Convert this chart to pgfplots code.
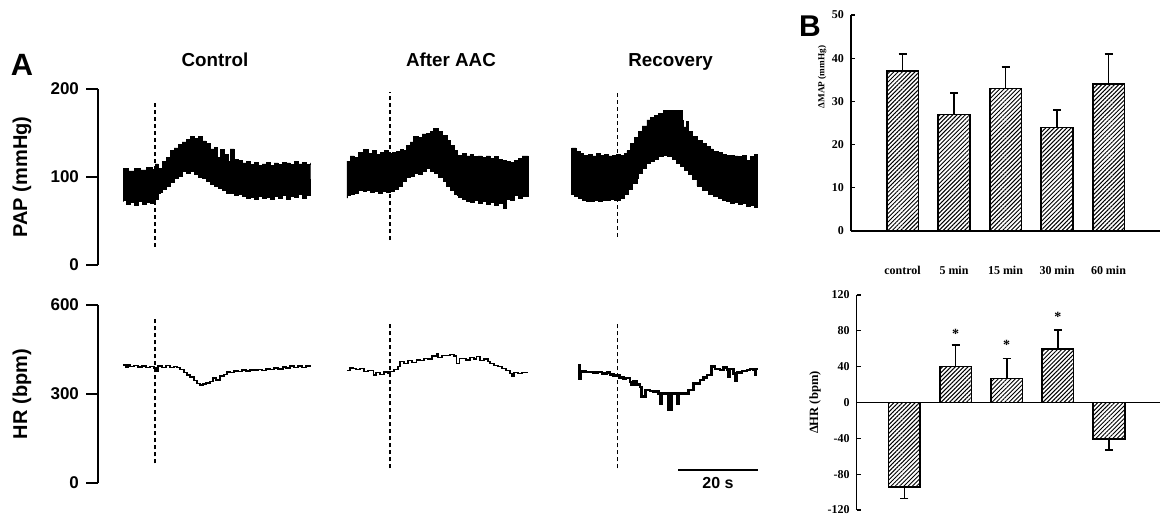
\documentclass[border=0pt]{standalone}
\usepackage{pgfplots}
\pgfplotsset{compat=1.18}
\usepackage{fontspec}
\setmainfont{Liberation Sans}
\newfontfamily\tnr{Liberation Serif}
\usetikzlibrary{patterns.meta}

% 1 px of the reference = 0.5pt
\pgfplotsset{
  trace/.style={
    scale only axis, anchor=south west, clip=false,
    width=341pt, xmin=0, xmax=170.5,
    hide x axis, axis y line*=left,
    tick align=outside, major tick length=6pt,
    tick style={line width=1.2pt, black},
    axis line style={line width=1.3pt},
    /pgf/number format/assume math mode=true,
    yticklabel style={font=\bfseries\fontsize{8.5}{10}\selectfont},
    ylabel style={font=\bfseries\fontsize{10}{12}\selectfont,
      at={(axis description cs:-0.1114,0.5)}, anchor=center},
  },
  vline/.style={black, line width=0.6pt, dash pattern=on 2pt off 1.5pt},
  band/.style={const plot, fill=black, draw=black, line width=0.3pt},
  bars/.style={
    scale only axis, anchor=south west, clip=false,
    xmin=0, xmax=6, axis y line*=left,
    axis line style={line width=0.6pt},
    tick align=inside, major tick length=2pt,
    ytick style={line width=0.6pt, black},
    /pgf/number format/assume math mode=true,
    tick label style={font=\tnr\bfseries\fontsize{6}{7}\selectfont},
    ybar, bar width=15.8pt,
  },
  hbar/.style={bar shift=0pt, draw=black, line width=0.8pt,
    pattern={Lines[angle=45,distance=1.5pt,line width=0.5pt]},
    error bars/.cd, y dir=#1, y explicit,
    error bar style={line width=0.8pt, black},
    error mark options={rotate=90, line width=0.8pt, mark size=2pt, black}},
}

\begin{document}
\begin{tikzpicture}
\path[use as bounding box] (0,0) rectangle (580pt,-258pt);

% ---------- panel A, pressure ----------
\begin{axis}[trace, at={(49pt,-132.5pt)}, height=88pt,
  ymin=0, ymax=200, ytick={0,100,200}, ylabel={PAP (mmHg)}]
% control
\addplot[band] coordinates {
 (6.3,110) (7.5,107) (9,110) (10.5,108) (12,111) (13.5,109) (14.3,115) (15,110)
 (16,118) (17,122) (18,130) (19,133) (20,137) (21,140) (22,143) (23,146) (24,144)
 (25,146) (26,141) (27,138) (28,132) (29,134) (29.7,122) (30.5,131) (31.5,126)
 (32.5,118) (33,132) (34,120) (35,119) (36,116) (37,118) (38,114) (39,117) (40,113)
 (41,115) (42,117) (43,113) (44,116) (45,114) (46,117) (47,116) (48,114) (49,118)
 (50,115) (51,117) (52,114) (53,116)
 (53,79) (52,76) (51,80) (50,77) (49,78) (48,75) (47,79) (46,76) (45,78) (44,75)
 (43,77) (42,76) (41,78) (40,75) (39,77) (38,76) (37,78) (36,80) (35,79) (34,82)
 (33,81) (32,85) (31,87) (30,90) (29,92) (28,95) (27,98) (26,100) (25,103) (24,106)
 (23,104) (22,106) (21,101) (20,98) (19,94) (18,90) (17,86) (16,83) (15.5,81) (15,75)
 (14.3,70) (13,71) (12,69) (11,72) (10,68) (9,71) (8,69) (7,73) (6.3,72)} --cycle;
% after AAC
\addplot[band] coordinates {
 (62.2,118) (63,124) (64,122) (65,128) (66,126) (66.3,131) (67.5,127) (68.5,130)
 (69.5,126) (70.5,128) (71.5,130) (72.5,127) (73.5,128) (74.5,129) (75.5,131)
 (76.3,130) (77,136) (78,140) (78.8,146) (80,145) (81,149) (82,150) (83,152)
 (83.8,155) (85,152) (86,147) (87.2,142) (88,136) (89,130) (89.7,125) (91,127)
 (92,124) (93,126) (93.8,123) (95,124) (96,122) (97,124) (98,121) (99,123) (100,120)
 (101,119) (102,118) (103,117) (104,119) (105,121) (106,124) (107.6,123)
 (107.6,78) (106,76) (105,79) (104,73) (103,75) (102,65) (101.3,70) (100,68) (99,71)
 (98,69) (97,72) (96,70) (95,73) (94,71) (93,72) (92,75) (91,77) (90,79) (89.7,80)
 (89,85) (88,90) (87,95) (86.3,100) (85,104) (84,107) (83,110) (82,106) (81,103)
 (80,104) (79,101) (78,100) (77,95) (76,90) (75,86) (74,84) (73,83) (72,84) (71,82)
 (70,84) (69,83) (68,85) (67,84) (66.3,85) (65,82) (64,80) (63,79) (62.2,76)} --cycle;
% recovery
\addplot[band] coordinates {
 (118.4,133) (119.5,129) (120.5,127) (121.3,125) (122.5,126) (123.5,124) (124.5,127)
 (125.5,125) (126.5,126) (127.5,124) (128.5,125) (129.5,126) (130.5,125) (131.5,127)
 (132.2,130) (133,138) (134,145) (135,152) (136,158) (137.2,165) (138,168) (139,170)
 (140,172) (141.3,176) (142.5,176) (143.5,176) (144.5,176) (145.5,176) (146,165)
 (146.3,157) (147,163) (147.5,152) (148.5,146) (149.7,142) (151,138) (152,135)
 (153,132) (153.8,129) (155,128) (156,126) (157,125) (158,125) (159,124) (160,123)
 (161,125) (162,119) (163,123) (164,126) (164.9,123)
 (164.9,66) (164,68) (163,67) (162,70) (161,69) (160,71) (159,70) (158,72) (157,74)
 (156,76) (155,78) (153.8,80) (152.5,85) (151,90) (149.7,97) (148.5,103) (147.5,108)
 (146.5,112) (145.5,116) (144.5,120) (143.5,124) (142.2,125) (141.3,123) (140,120)
 (139,118) (138,116) (137,110) (136,104) (135,98) (134.7,93) (133.5,86) (132.5,80)
 (131.5,76) (130.5,74) (129,75) (128,73) (127,74) (126,72) (125,74) (124,72) (123,72)
 (122,74) (121,76) (120,78) (119,80) (118.4,80)} --cycle;
\addplot[vline] coordinates {(14.25,20.8) (14.25,187.5)};
\addplot[vline] coordinates {(73,28.4) (73,197)};
\addplot[vline] coordinates {(129.8,32) (129.8,199)};
\end{axis}

% ---------- panel A, heart rate ----------
\begin{axis}[trace, at={(49pt,-241.5pt)}, height=89pt,
  ymin=0, ymax=600, ytick={0,300,600}, ylabel={HR (bpm)}]
\addplot[const plot, black, line width=0.8pt] coordinates {
 (6.3,398) (7,392) (7.5,400) (8,393) (9,396) (10,392) (11,394) (12,390) (13,393)
 (14,388) (14.7,376) (15,394) (16,390) (17,396) (18,389) (19,393) (19.7,389)
 (20.5,382) (21.5,372) (22.2,364) (23,357) (24,345) (24.7,336) (25.5,331) (26.3,333)
 (27,338) (28,342) (28.8,353) (29.5,348) (30.5,360) (31.5,366) (32.2,375) (33,372)
 (34,378) (35,376) (36,380) (37,378) (38,381) (39,380) (40,383) (41,379) (42,385)
 (43,383) (44,387) (45,384) (46.3,392) (47,388) (48,394) (49,390) (50,395) (51,389)
 (52,394) (53,390)};
\addplot[const plot, black, line width=0.6pt] coordinates {
 (62.2,378) (63,388) (63.8,386) (64.5,382) (65.5,385) (66.5,376) (67.5,380)
 (68.8,364) (69.5,372) (70.5,366) (71.5,374) (72.5,370) (73,375) (74,382) (75,392)
 (75.5,409) (76.5,404) (77.5,412) (78.5,406) (79.7,415) (80.5,412) (81.5,420)
 (82.5,418) (83.5,428) (84.7,437) (85,422) (86,430) (87,431) (88,433) (89,428)
 (89.7,403) (90.3,420) (91.3,420) (92,415) (93,424) (94,418) (94.7,426) (95.5,412)
 (96.5,418) (97.5,410) (98,403) (99,397) (100,392) (101,386) (102,378) (103,370)
 (103.5,360) (104,372) (105,370) (106,372) (107.6,372)};
\addplot[const plot, black, line width=1.3pt] coordinates {
 (120.1,398) (120.4,353) (120.7,375) (122,374) (123.8,372) (125,374) (126,370)
 (127.2,372) (128,366) (128.8,361) (129.5,363) (130.3,356) (131.3,352) (132,354)
 (133,340) (133.4,330) (133.8,342) (134.6,332) (135.5,324) (135.9,291) (136.8,313)
 (138,310) (138.8,308) (140.1,302) (140.5,269) (141,302) (142.6,246) (143.4,302)
 (144.7,269) (145.1,302) (146.3,302) (147.6,313) (148.8,336) (150.5,347) (151.3,355)
 (152.2,364) (153.4,392) (154.2,385) (155.5,381) (156.3,390) (157.2,383) (157.6,358)
 (158,384) (158.8,370) (159.3,346) (159.7,372) (161,378) (162.2,381) (163,385)
 (163.8,381) (164.3,364) (164.5,383) (164.7,381)};
\addplot[vline] coordinates {(14.25,66) (14.25,555)};
\addplot[vline] coordinates {(73,49.5) (73,544)};
\addplot[vline] coordinates {(129.8,49.5) (129.8,544)};
% 20 s scale bar
\addplot[black, line width=1pt] coordinates {(145,43.8) (165,43.8)};
\node[anchor=base, font=\bfseries\fontsize{8}{9}\selectfont] at (axis cs:155,-18) {20 s};
\end{axis}

\node[anchor=base, font=\bfseries\fontsize{9.4}{11}\selectfont] at (107.5pt,-33pt) {Control};
\node[anchor=base, font=\bfseries\fontsize{9.4}{11}\selectfont] at (225.5pt,-33pt) {After AAC};
\node[anchor=base, font=\bfseries\fontsize{9.4}{11}\selectfont] at (335.3pt,-33pt) {Recovery};
\node[anchor=base, font=\bfseries\fontsize{15.4}{17}\selectfont] at (11pt,-37.5pt) {A};
\node[anchor=base, font=\bfseries\fontsize{15}{17}\selectfont] at (405pt,-18.3pt) {B};

% ---------- panel B, MAP ----------
\begin{axis}[bars, at={(425.5pt,-115.5pt)}, width=154.5pt, height=108pt,
  ymin=0, ymax=50, ytick={0,10,...,50},
  axis x line*=bottom, xtick={1,...,5}, xtick style={draw=none},
  xticklabels={control,5 min,15 min,30 min,60 min},
  xticklabel style={yshift=-12pt},
  ylabel={ΔMAP (mmHg)},
  ylabel style={font=\tnr\bfseries\fontsize{4.6}{5}\selectfont,
    at={(axis description cs:-0.093,0.713)}, anchor=center}]
\addplot[hbar=plus] coordinates {
 (1,37) +- (0,4) (2,27) +- (0,5) (3,33) +- (0,5) (4,24) +- (0,4) (5,34) +- (0,7)};
\end{axis}

% ---------- panel B, HR ----------
\begin{axis}[bars, at={(428.35pt,-255pt)}, width=151.65pt, height=107.5pt,
  xmin=0.065, ymin=-120, ymax=120, ytick={-120,-80,...,120},
  axis x line*=middle, xtick=\empty,
  ylabel={ΔHR (bpm)},
  ylabel style={font=\tnr\bfseries\fontsize{6.3}{7}\selectfont,
    at={(axis description cs:-0.1375,0.5)}, anchor=center}]
\addplot[hbar=plus] coordinates {
 (2,40) +- (0,24) (3,27) +- (0,22) (4,60) +- (0,21)};
\addplot[hbar=minus] coordinates {
 (1,-94) +- (0,13) (5,-41) +- (0,12)};
\node[font=\tnr\bfseries\fontsize{7}{7}\selectfont] at (axis cs:2,77) {*};
\node[font=\tnr\bfseries\fontsize{7}{7}\selectfont] at (axis cs:3,64) {*};
\node[font=\tnr\bfseries\fontsize{7}{7}\selectfont] at (axis cs:4,95.5) {*};
\end{axis}
\end{tikzpicture}
\end{document}
